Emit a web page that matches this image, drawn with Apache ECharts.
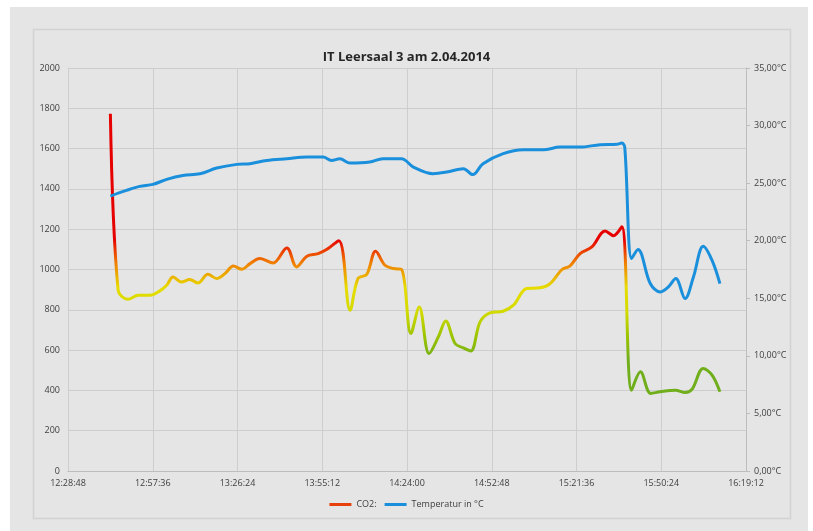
<!DOCTYPE html>
<html>
<head>
<meta charset="utf-8">
<title>IT Leersaal 3 am 2.04.2014</title>
<script src="https://cdn.jsdelivr.net/npm/echarts@6/dist/echarts.min.js"></script>
<style>
  html, body { margin: 0; padding: 0; background: #fff; }
  #chart { width: 813px; height: 531px; }
</style>
</head>
<body>
<div id="chart"></div>
<script>
const co2Times = [
  '12:43:12', '12:45:50', '12:49:10', '12:52:40', '12:56:40', '13:00:00', '13:02:20', '13:04:30',
  '13:07:20', '13:10:10', '13:13:00', '13:16:20', '13:19:20', '13:22:10', '13:25:00', '13:27:50',
  '13:30:40', '13:34:00', '13:38:30', '13:43:10', '13:46:30', '13:50:00', '13:53:50', '13:56:40',
  '14:00:50', '14:04:40', '14:07:20', '14:10:20', '14:13:20', '14:16:30', '14:19:20', '14:22:10',
  '14:25:20', '14:28:10', '14:31:30', '14:34:40', '14:37:10', '14:40:20', '14:43:10', '14:45:40',
  '14:48:50', '14:52:10', '14:56:40', '15:00:10', '15:04:40', '15:09:10', '15:12:40', '15:16:40',
  '15:19:20', '15:22:50', '15:26:50', '15:31:20', '15:34:10', '15:37:00', '15:40:20', '15:43:20',
  '15:46:50', '15:50:00', '15:55:10', '15:58:30', '16:00:50', '16:04:40', '16:07:40', '16:10:20'
]
const co2Values = [
  1773, 897, 852, 872, 872, 894, 922, 963,
  938, 950, 933, 976, 955, 980, 1017, 1001,
  1029, 1054, 1032, 1107, 1013, 1066, 1079, 1099,
  1143, 798, 955, 976, 1090, 1021, 1005, 1000,
  682, 814, 583, 666, 745, 633, 611, 596,
  740, 785, 793, 823, 906, 909, 930, 1000,
  1017, 1079, 1112, 1191, 1168, 1212, 401, 492,
  385, 393, 401, 390, 405, 509, 476, 393
]

const tempTimes = [
  '12:43:12', '12:48:40', '12:53:10', '12:57:40', '13:02:20', '13:07:50', '13:13:40', '13:19:20',
  '13:26:10', '13:30:40', '13:36:20', '13:43:10', '13:50:00', '13:55:30', '13:58:20', '14:01:10',
  '14:04:40', '14:11:20', '14:15:50', '14:22:10', '14:26:10', '14:32:50', '14:37:30', '14:43:10',
  '14:46:20', '14:49:50', '14:56:40', '15:03:30', '15:10:20', '15:16:00', '15:22:50', '15:29:40',
  '15:35:20', '15:37:00', '15:38:00', '15:40:20', '15:42:30', '15:46:40', '15:50:00', '15:52:50',
  '15:55:20', '15:58:30', '16:01:20', '16:04:40', '16:07:40', '16:10:20'
]
const tempValues = [
  23.88, 24.37, 24.72, 24.89, 25.33, 25.67, 25.82, 26.31,
  26.63, 26.69, 26.97, 27.12, 27.26, 27.26, 26.97, 27.12,
  26.74, 26.83, 27.12, 27.12, 26.40, 25.82, 25.96, 26.26,
  25.74, 26.69, 27.56, 27.90, 27.90, 28.13, 28.13, 28.34,
  28.37, 28.48, 28.10, 18.45, 19.23, 16.28, 15.55, 15.99,
  16.71, 14.98, 16.85, 19.52, 18.30, 16.28
]

const xStart = '12:28:48'
const xEnd = '16:19:12'
const xStep = 1728 // 28:48 in Sekunden

function toSec(s) {
  const [h, m, sec] = s.split(':').map(Number)
  return h * 3600 + m * 60 + (sec || 0)
}

function fmtTime(v) {
  const h = Math.floor(v / 3600)
  const m = Math.floor((v % 3600) / 60)
  const s = Math.round(v % 60)
  const pad = n => String(n).padStart(2, '0')
  return h + ':' + pad(m) + ':' + pad(s)
}

const co2Data = co2Times.map((t, i) => [toSec(t), co2Values[i]])
const tempData = tempTimes.map((t, i) => [toSec(t), tempValues[i]])

const FONT = "'Liberation Sans Narrow', 'Open Sans', sans-serif"
const GRID_COLOR = '#cdcdcd'
const LABEL_COLOR = '#404040'

const chart = echarts.init(document.getElementById('chart'))

chart.setOption({
  backgroundColor: '#ffffff',
  animation: false,
  graphic: [
    // grauer Hintergrund
    { type: 'rect', z: -10, shape: { x: 10, y: 7, width: 798, height: 524 }, style: { fill: '#e5e5e5' } },
    // Diagrammbereich-Rahmen
    { type: 'rect', z: -9, shape: { x: 33.5, y: 29.5, width: 757, height: 489 }, style: { fill: '#e5e5e5', stroke: '#d2d2d2', lineWidth: 1.5 } }
  ],
  title: {
    text: 'IT Leersaal 3 am 2.04.2014',
    left: 'center',
    top: 46,
    textStyle: { fontFamily: FONT, fontSize: 13, fontWeight: 'bold', color: '#262626' }
  },
  legend: {
    bottom: 17,
    left: 'center',
    icon: 'rect',
    itemWidth: 22,
    itemHeight: 3,
    itemGap: 8,
    textStyle: { fontFamily: FONT, fontSize: 9, color: LABEL_COLOR },
    data: [
      { name: 'CO2:', itemStyle: { color: '#e8400a' } },
      { name: 'Temperatur in °C', itemStyle: { color: '#1a8fdc' } }
    ]
  },
  grid: { left: 68, right: 67, top: 68, bottom: 60 },
  visualMap: {
    show: false,
    type: 'continuous',
    seriesIndex: 0,
    dimension: 1,
    min: 550,
    max: 1150,
    inRange: { color: ['#70ae1c', '#9cc400', '#d2da00', '#e6dc00', '#f08000', '#e60000'] }
  },
  xAxis: {
    type: 'value',
    min: toSec(xStart),
    max: toSec(xEnd),
    interval: xStep,
    axisLine: { lineStyle: { color: '#bdbdbd' } },
    axisTick: { show: false },
    axisLabel: { formatter: fmtTime, color: LABEL_COLOR, fontFamily: FONT, fontSize: 9, margin: 8 },
    splitLine: { show: true, lineStyle: { color: GRID_COLOR } }
  },
  yAxis: [
    {
      type: 'value',
      min: 0,
      max: 2000,
      interval: 200,
      axisLine: { show: true, lineStyle: { color: GRID_COLOR } },
      axisTick: { show: false },
      axisLabel: { color: LABEL_COLOR, fontFamily: FONT, fontSize: 9, margin: 8, formatter: v => String(v) },
      splitLine: { lineStyle: { color: GRID_COLOR } }
    },
    {
      type: 'value',
      min: 0,
      max: 35,
      interval: 5,
      position: 'right',
      axisLine: { show: true, lineStyle: { color: '#bdbdbd' } },
      axisTick: { show: true, length: 4, lineStyle: { color: '#bdbdbd' } },
      axisLabel: {
        color: LABEL_COLOR, fontFamily: FONT, fontSize: 9, margin: 8,
        formatter: v => v.toFixed(2).replace('.', ',') + '°C'
      },
      splitLine: { show: false }
    }
  ],
  series: [
    {
      name: 'CO2:',
      type: 'line',
      yAxisIndex: 0,
      data: co2Data,
      smooth: 0.35,
      symbol: 'none',
      lineStyle: { width: 3 }
    },
    {
      name: 'Temperatur in °C',
      type: 'line',
      yAxisIndex: 1,
      data: tempData,
      smooth: 0.35,
      symbol: 'none',
      lineStyle: { width: 3, color: '#1a8fdc' },
      itemStyle: { color: '#1a8fdc' }
    }
  ]
})
</script>
</body>
</html>
